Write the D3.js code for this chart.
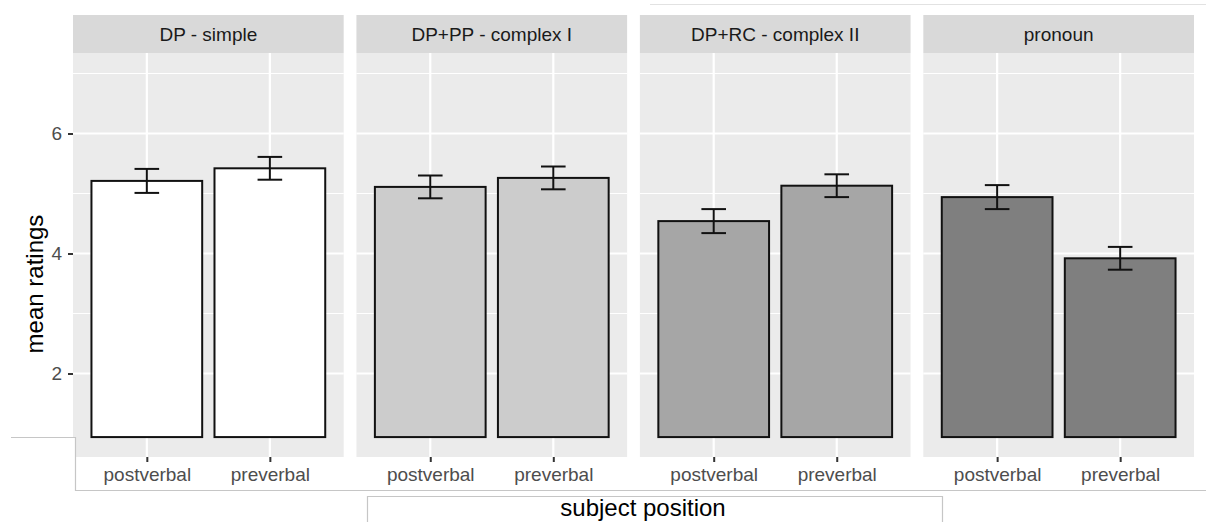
<!DOCTYPE html>
<html>
<head>
<meta charset="utf-8">
<script src="https://cdn.jsdelivr.net/npm/d3@7"></script>
<style>
  body { margin: 0; background: #fff; }
  svg { display: block; font-family: "Liberation Sans", Arial, sans-serif; }
</style>
</head>
<body>
<div class="chart"></div>
<script>
// facets and categories
var facets = ['DP - simple', 'DP+PP - complex I', 'DP+RC - complex II', 'pronoun'];
var positions = ['postverbal', 'preverbal'];
var fills = ['#ffffff', '#cccccc', '#a6a6a6', '#7f7f7f'];

// mean ratings and error bar half-widths, one value per facet
var postMeans = [5.21, 5.11, 4.54, 4.94];
var preMeans = [5.42, 5.26, 5.13, 3.92];
var postErr = [0.20, 0.19, 0.20, 0.20];
var preErr = [0.19, 0.19, 0.19, 0.19];

var yTicks = [2, 4, 6];
var yMinor = [3, 5, 7];
var yBase = 0.94;

var width = 1206, height = 522;
var panelTop = 53, panelBottom = 457, stripTop = 15;

var svg = d3.select('.chart')
  .append('svg')
    .attr('width', width)
    .attr('height', height);

var data = [];
facets.forEach(function(f, i) {
  data.push({ facet: f, pos: 'postverbal', mean: postMeans[i], err: postErr[i], fill: fills[i] });
  data.push({ facet: f, pos: 'preverbal', mean: preMeans[i], err: preErr[i], fill: fills[i] });
});

var fScale = d3.scaleBand()
  .domain(facets)
  .range([73, 1194])
  .paddingInner(0.045)
  .paddingOuter(0);

var xScale = d3.scalePoint()
  .domain(positions)
  .range([0, fScale.bandwidth()])
  .padding(0.6);

var yScale = d3.scaleLinear()
  .domain([0.608, 7.342])
  .range([panelBottom, panelTop]);

var step = xScale.step();
var barW = step * 0.9;
var whisker = step * 0.2;

var panels = svg.selectAll('.panel')
  .data(facets)
  .enter()
  .append('g')
    .attr('class', 'panel')
    .attr('transform', function(d) { return 'translate(' + fScale(d) + ',0)'; });

// strip
panels.append('rect')
  .attr('x', 0)
  .attr('y', stripTop)
  .attr('width', fScale.bandwidth())
  .attr('height', panelTop - stripTop)
  .attr('fill', '#d9d9d9');

panels.append('text')
  .attr('x', fScale.bandwidth() / 2)
  .attr('y', (stripTop + panelTop) / 2)
  .attr('dy', '0.35em')
  .attr('text-anchor', 'middle')
  .style('font-size', '19px')
  .style('fill', '#1a1a1a')
  .text(function(d) { return d; });

// panel background and grid
panels.append('rect')
  .attr('x', 0)
  .attr('y', panelTop)
  .attr('width', fScale.bandwidth())
  .attr('height', panelBottom - panelTop)
  .attr('fill', '#ebebeb');

panels.selectAll('.minor')
  .data(yMinor)
  .enter()
  .append('line')
    .attr('x1', 0)
    .attr('x2', fScale.bandwidth())
    .attr('y1', function(d) { return yScale(d); })
    .attr('y2', function(d) { return yScale(d); })
    .attr('stroke', '#fff')
    .attr('stroke-width', 1.2);

panels.selectAll('.major')
  .data(yTicks)
  .enter()
  .append('line')
    .attr('x1', 0)
    .attr('x2', fScale.bandwidth())
    .attr('y1', function(d) { return yScale(d); })
    .attr('y2', function(d) { return yScale(d); })
    .attr('stroke', '#fff')
    .attr('stroke-width', 2.2);

panels.selectAll('.vgrid')
  .data(positions)
  .enter()
  .append('line')
    .attr('x1', function(d) { return xScale(d); })
    .attr('x2', function(d) { return xScale(d); })
    .attr('y1', panelTop)
    .attr('y2', panelBottom)
    .attr('stroke', '#fff')
    .attr('stroke-width', 2.2);

// bars + error bars
panels.each(function(f) {
  var g = d3.select(this);
  var rows = data.filter(function(d) { return d.facet === f; });

  g.selectAll('.bar')
    .data(rows)
    .enter()
    .append('rect')
      .attr('class', 'bar')
      .attr('x', function(d) { return xScale(d.pos) - barW / 2; })
      .attr('y', function(d) { return yScale(d.mean); })
      .attr('width', barW)
      .attr('height', function(d) { return yScale(yBase) - yScale(d.mean); })
      .attr('fill', function(d) { return d.fill; })
      .attr('stroke', '#111')
      .attr('stroke-width', 2);

  var eb = g.selectAll('.err')
    .data(rows)
    .enter()
    .append('g')
      .attr('class', 'err')
      .attr('stroke', '#111')
      .attr('stroke-width', 2);

  eb.append('line')
    .attr('x1', function(d) { return xScale(d.pos); })
    .attr('x2', function(d) { return xScale(d.pos); })
    .attr('y1', function(d) { return yScale(d.mean + d.err); })
    .attr('y2', function(d) { return yScale(d.mean - d.err); });
  eb.append('line')
    .attr('x1', function(d) { return xScale(d.pos) - whisker / 2; })
    .attr('x2', function(d) { return xScale(d.pos) + whisker / 2; })
    .attr('y1', function(d) { return yScale(d.mean + d.err); })
    .attr('y2', function(d) { return yScale(d.mean + d.err); });
  eb.append('line')
    .attr('x1', function(d) { return xScale(d.pos) - whisker / 2; })
    .attr('x2', function(d) { return xScale(d.pos) + whisker / 2; })
    .attr('y1', function(d) { return yScale(d.mean - d.err); })
    .attr('y2', function(d) { return yScale(d.mean - d.err); });
});

// x axis per panel
panels.each(function() {
  var ax = d3.select(this)
    .append('g')
      .attr('transform', 'translate(0,' + panelBottom + ')')
      .call(d3.axisBottom(xScale).tickSize(5).tickPadding(6));
  ax.select('.domain').remove();
  ax.selectAll('line').attr('stroke', '#333').attr('stroke-width', 2);
  ax.selectAll('text')
    .style('font-size', '19px')
    .style('font-family', '"Liberation Sans", Arial, sans-serif')
    .attr('fill', '#4d4d4d');
});

// y axis
var yAx = svg.append('g')
  .attr('transform', 'translate(' + fScale(facets[0]) + ',0)')
  .call(d3.axisLeft(yScale).tickValues(yTicks).tickFormat(d3.format('d')).tickSize(5).tickPadding(6));
yAx.select('.domain').remove();
yAx.selectAll('line').attr('stroke', '#333').attr('stroke-width', 2);
yAx.selectAll('text')
  .style('font-size', '19px')
  .style('font-family', '"Liberation Sans", Arial, sans-serif')
  .attr('fill', '#4d4d4d');

// overlays from the pasted screenshot pieces
svg.append('rect')
  .attr('x', 0).attr('y', 437.5)
  .attr('width', 76).attr('height', height - 437.5)
  .attr('fill', '#fff');

var border = '#c6c6c6';
svg.append('path')
  .attr('d', 'M11,437.5 H75.5 V490.5 H1206')
  .attr('fill', 'none')
  .attr('stroke', border)
  .attr('stroke-width', 1.2);
svg.append('path')
  .attr('d', 'M367.5,530 V496.5 H942.5 V530')
  .attr('fill', 'none')
  .attr('stroke', border)
  .attr('stroke-width', 1.2);
svg.append('line')
  .attr('x1', 650).attr('x2', 1206)
  .attr('y1', 4.5).attr('y2', 4.5)
  .attr('stroke', '#e2e2e2')
  .attr('stroke-width', 1);

// axis titles
svg.append('text')
  .attr('transform', 'translate(43,284) rotate(-90)')
  .attr('text-anchor', 'middle')
  .style('font-size', '24px')
  .style('fill', '#000')
  .text('mean ratings');

svg.append('text')
  .attr('x', 643)
  .attr('y', 516)
  .attr('text-anchor', 'middle')
  .style('font-size', '24px')
  .style('fill', '#000')
  .text('subject position');
</script>
</body>
</html>
